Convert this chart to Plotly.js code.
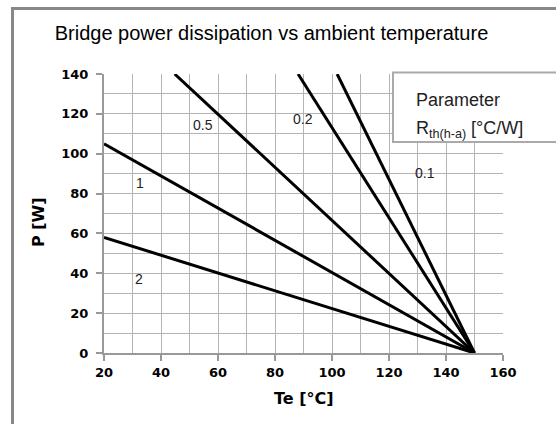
<!DOCTYPE html>
<html><head><meta charset="utf-8">
<script src="https://cdn.plot.ly/plotly-3.0.1.min.js"></script>
<style>html,body{margin:0;padding:0;background:#fff}#c{width:556px;height:424px}</style>
</head><body><div id="c"></div>
<script>
// Rth(h-a) parameter values and line endpoints (Ta, P)
const rthLabels = ["2", "1", "0.5", "0.2", "0.1"];
const taStart = [20, 20, 44.8, 88.1, 101.8];
const pStart = [58, 105, 140, 140, 140];
const taEnd = [150, 150, 150, 150, 150];
const pEnd = [0, 0, 0, 0, 0];
// label positions for each curve
const labelTa = [32.2, 32.5, 54.6, 89.7, 132.5];
const labelP = [37, 85.3, 114.4, 117.4, 90.3];
const xTicks = [20, 40, 60, 80, 100, 120, 140, 160];
const yTicks = [0, 20, 40, 60, 80, 100, 120, 140];

const W = 556, H = 424;
const L = 104, R = 53, T = 74, B = 71;
const pw = W - L - R, ph = H - T - B;
const px = v => (v - L) / pw;
const py = v => (H - B - v) / ph;

const traces = rthLabels.map((r, i) => ({
  x: [taStart[i], taEnd[i]], y: [pStart[i], pEnd[i]],
  mode: 'lines', type: 'scatter', name: r,
  line: {color: '#000', width: 3}, hoverinfo: 'skip'
}));

const annotations = rthLabels.map((r, i) => ({
  x: labelTa[i], y: labelP[i], xref: 'x', yref: 'y', text: r, showarrow: false,
  font: {family: 'Liberation Sans, Arial', size: 14, color: '#222'}
}));
annotations.push({
  xref: 'paper', yref: 'paper', x: px(414), y: py(100), xanchor: 'left', yanchor: 'middle',
  text: 'Parameter', showarrow: false,
  font: {family: 'Liberation Sans, Arial', size: 18, color: '#222'}
});
annotations.push({
  xref: 'paper', yref: 'paper', x: px(414), y: py(129), xanchor: 'left', yanchor: 'middle',
  text: 'R<sub>th(h-a)</sub> [°C/W]', showarrow: false,
  font: {family: 'Liberation Sans, Arial', size: 18, color: '#222'}
});
// axis titles
annotations.push({
  xref: 'paper', yref: 'paper', x: px(304), y: py(398), xanchor: 'center', yanchor: 'middle',
  text: 'Te [°C]', showarrow: false,
  font: {family: 'DejaVu Sans', size: 16, color: '#000', weight: 'bold'}
});
annotations.push({
  xref: 'paper', yref: 'paper', x: px(38), y: py(222), xanchor: 'center', yanchor: 'middle',
  text: 'P [W]', showarrow: false, textangle: -90,
  font: {family: 'DejaVu Sans', size: 16, color: '#000', weight: 'bold'}
});

const shapes = [
  {type: 'rect', xref: 'paper', yref: 'paper', x0: px(393), x1: px(565), y0: py(142), y1: py(72.5),
   fillcolor: '#fff', line: {color: '#aaa', width: 2}, layer: 'above'},
  {type: 'line', xref: 'paper', yref: 'paper', x0: px(12.5), x1: px(12.5), y0: py(7), y1: py(430),
   line: {color: '#888', width: 3}},
  {type: 'line', xref: 'paper', yref: 'paper', x0: px(11), x1: px(560), y0: py(8.5), y1: py(8.5),
   line: {color: '#888', width: 3}}
];

const axisCommon = {
  showgrid: true, gridcolor: '#b4b4b4', gridwidth: 1,
  showline: true, linecolor: '#999', linewidth: 2,
  ticks: 'outside', ticklen: 6, tickcolor: '#999', tickwidth: 2,
  tickfont: {family: 'DejaVu Sans', size: 13, color: '#000', weight: 'bold'},
  minor: {dtick: 10, showgrid: true, gridcolor: '#b4b4b4', gridwidth: 1},
  zeroline: false, fixedrange: true
};

const layout = {
  width: W, height: H,
  margin: {l: L, r: R, t: T, b: B},
  paper_bgcolor: '#fff', plot_bgcolor: '#fff',
  showlegend: false,
  title: {text: 'Bridge power dissipation vs ambient temperature', xref: 'container', yref: 'container',
    x: 271.5 / W, xanchor: 'center', y: 1 - 33 / H, yanchor: 'middle',
    font: {family: 'Liberation Sans, Arial', size: 20, color: '#000'}},
  xaxis: Object.assign({}, axisCommon, {range: [20, 160], tickvals: xTicks}),
  yaxis: Object.assign({}, axisCommon, {range: [0, 140], tickvals: yTicks, ticklabelstandoff: 5}),
  annotations: annotations,
  shapes: shapes
};

Plotly.newPlot('c', traces, layout, {staticPlot: true, displayModeBar: false});
</script></body></html>
